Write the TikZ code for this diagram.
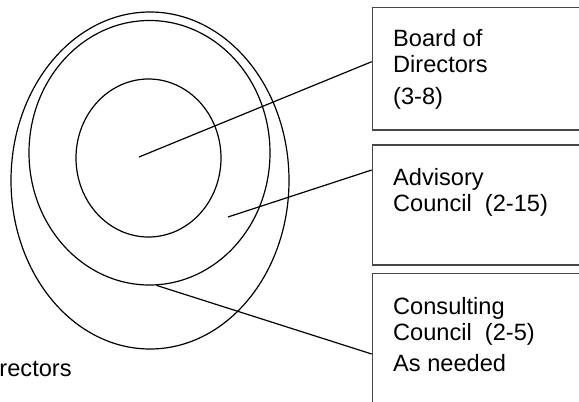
\documentclass[tikz,border=0pt]{standalone}
\usepackage{fontspec}
\setmainfont{Liberation Sans}
\usetikzlibrary{shapes.geometric,positioning}

\tikzset{
  ring/.style={draw, ellipse, inner sep=0pt, line width=1.2pt},
  box/.style={draw=black!72, line width=1.4pt, rectangle, inner sep=0pt,
    minimum width=240pt, anchor=north west},
  boxtext/.style={anchor=base west, align=left, inner sep=0pt,
    font=\fontsize{23.6pt}{26pt}\selectfont},
  link/.style={line width=1.2pt}
}

\begin{document}
\begin{tikzpicture}[x=1pt,y=-1pt]
    \useasboundingbox[fill=white] (0,0) rectangle (579,402);
    % rings
    \node[ring, minimum width=278pt, minimum height=337pt] (outer) at (150,180.5) {};
    \node[ring, minimum width=241pt, minimum height=264.5pt] (middle) at (149.5,152.75) {};
    \node[ring, minimum width=145pt, minimum height=158pt] (inner) at (148.5,158) {};
    \coordinate (boardpt) at (139,157);
    \coordinate (advisorypt) at (228,217);
    % boxes
    \node[box, minimum height=122.6pt] (board) at (371.7,6.7) {};
    \node[box, minimum height=120pt] (advisory) at (371.7,144.3) {};
    \node[box, minimum height=140pt] (consulting) at (371.7,273) {};
    % base anchor sits on the last line
    \node[boxtext] (boardtxt) at (393,104) {Board of\\Directors\\[5.3pt](3-8)};
    \node[boxtext] (advisorytxt) at (393,211) {Advisory\\Council~~(2-15)};
    \node[boxtext] (consultingtxt) at (393,371.7) {Consulting\\Council~~(2-5)\\[5.5pt]As needed};
    \node[boxtext] (directors) at (-23,376) {Directors};
    % links
    \draw[link] (boardpt) -- ([yshift=-55pt]board.north west);
    \draw[link] (advisorypt) -- ([yshift=-25.7pt]advisory.north west);
    \draw[link] (middle.-87) -- ([yshift=-81pt]consulting.north west);
\end{tikzpicture}
\end{document}
